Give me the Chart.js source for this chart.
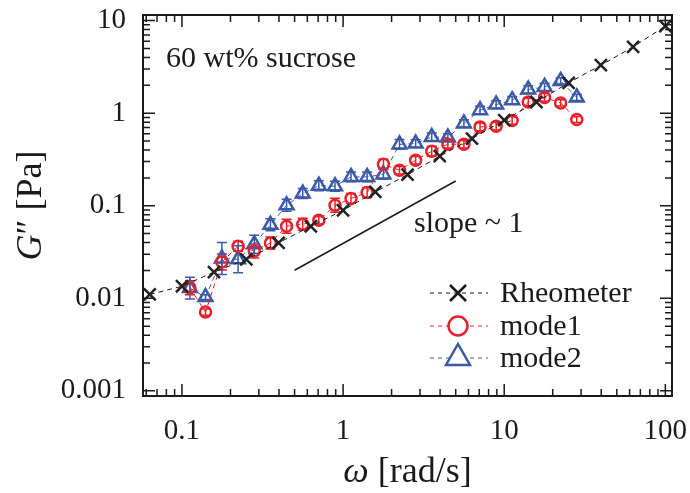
<!DOCTYPE html>
<html lang="en">
<head>
<meta charset="UTF-8">
<title>G'' vs omega - 60 wt% sucrose</title>
<script src="https://cdn.jsdelivr.net/npm/chart.js"></script>
<style>
    body { margin: 0; background: #fff; }
    #wrap { width: 690px; height: 493px; }
</style>
</head>
<body>
<div id="wrap"><canvas id="chart" width="690" height="493"></canvas></div>
<script>
// Rheometer reference data
const rheoW = [0.0631, 0.1, 0.158, 0.251, 0.398, 0.631, 1, 1.585, 2.512, 3.981, 6.31, 10, 15.85, 25.12, 39.81, 63.1, 100];
const rheoG = [0.011, 0.0135, 0.0192, 0.0263, 0.0398, 0.060, 0.0893, 0.141, 0.217, 0.343, 0.532, 0.84, 1.32, 2.13, 3.30, 5.21, 8.72];

// mode1 / mode2 share the same frequencies
const modeW = [0.112, 0.140, 0.177, 0.223, 0.281, 0.354, 0.446, 0.562, 0.707, 0.891, 1.12, 1.41, 1.78, 2.24, 2.82, 3.55, 4.47, 5.62, 7.08, 8.91, 11.2, 14.1, 17.8, 22.4, 28.2];
const mode1G = [0.0130, 0.0071, 0.0247, 0.0365, 0.0325, 0.0396, 0.060, 0.063, 0.0697, 0.101, 0.120, 0.139, 0.281, 0.242, 0.310, 0.388, 0.462, 0.462, 0.711, 0.723, 0.834, 1.32, 1.48, 1.29, 0.855];
const mode2G = [0.0129, 0.0103, 0.0269, 0.0264, 0.0384, 0.0623, 0.101, 0.1355, 0.1645, 0.1625, 0.205, 0.205, 0.218, 0.460, 0.470, 0.554, 0.546, 0.774, 1.077, 1.24, 1.38, 1.80, 1.92, 2.23, 1.48];
// relative errors (bar goes from G/(1+e) to G*(1+e))
const mode1Err = [0.19, 0.08, 0.22, 0.13, 0.19, 0.16, 0.19, 0.16, 0.10, 0.19, 0.13, 0.13, 0.13, 0.10, 0.10, 0.13, 0.10, 0.10, 0.10, 0.10, 0.10, 0.10, 0.10, 0.08, 0.08];
const mode2Err = [0.31, 0.06, 0.49, 0.40, 0.25, 0.16, 0.16, 0.13, 0.13, 0.13, 0.13, 0.13, 0.13, 0.13, 0.10, 0.10, 0.10, 0.10, 0.10, 0.10, 0.10, 0.10, 0.10, 0.08, 0.08];

// slope guide line
const slopeW = [0.5, 5];
const slopeG = [0.0201, 0.185];

const xTicks = [0.1, 1, 10, 100];
const yTicks = [0.001, 0.01, 0.1, 1, 10];

const SERIF = "'Liberation Serif', 'Times New Roman', serif";
const BLACK = '#1a1a1a';
const RED = '#e8202a';
const BLUE = '#3a5aa8';

function pts(xs, ys) {
    return xs.map((x, i) => ({ x: x, y: ys[i] }));
}

// frame, inward ticks, error bars, text and legend
const decor = {
    id: 'decor',
    beforeDatasetsDraw(chart) {
        const ctx = chart.ctx;
        const xs = chart.scales.x, ys = chart.scales.y;
        const bars = [[mode1G, mode1Err, RED], [mode2G, mode2Err, BLUE]];
        ctx.save();
        ctx.lineWidth = 1.5;
        bars.forEach(([g, err, col]) => {
            ctx.strokeStyle = col;
            modeW.forEach((w, i) => {
                const px = xs.getPixelForValue(w);
                const lo = ys.getPixelForValue(g[i] / (1 + err[i]));
                const hi = ys.getPixelForValue(g[i] * (1 + err[i]));
                ctx.beginPath();
                ctx.moveTo(px, lo); ctx.lineTo(px, hi);
                ctx.moveTo(px - 5, lo); ctx.lineTo(px + 5, lo);
                ctx.moveTo(px - 5, hi); ctx.lineTo(px + 5, hi);
                ctx.stroke();
            });
        });
        ctx.restore();
    },
    afterDraw(chart) {
        const ctx = chart.ctx;
        const a = chart.chartArea;
        const xs = chart.scales.x, ys = chart.scales.y;
        ctx.save();
        ctx.strokeStyle = BLACK;
        ctx.lineWidth = 2;
        ctx.strokeRect(a.left, a.top, a.right - a.left, a.bottom - a.top);

        // inward ticks on all four sides
        ctx.lineWidth = 1.5;
        for (let e = -3; e <= 2; e++) {
            for (let m = 1; m <= 9; m++) {
                const v = m * Math.pow(10, e);
                const len = m === 1 ? 12 : 7;
                if (v >= xs.min && v <= xs.max) {
                    const px = xs.getPixelForValue(v);
                    ctx.beginPath();
                    ctx.moveTo(px, a.bottom); ctx.lineTo(px, a.bottom - len);
                    ctx.moveTo(px, a.top); ctx.lineTo(px, a.top + len);
                    ctx.stroke();
                }
                if (v >= ys.min && v <= ys.max) {
                    const py = ys.getPixelForValue(v);
                    ctx.beginPath();
                    ctx.moveTo(a.left, py); ctx.lineTo(a.left + len, py);
                    ctx.moveTo(a.right, py); ctx.lineTo(a.right - len, py);
                    ctx.stroke();
                }
            }
        }

        // annotations
        ctx.fillStyle = BLACK;
        ctx.textBaseline = 'alphabetic';
        ctx.font = '30px ' + SERIF;
        ctx.fillText('60 wt% sucrose', 166, 67);
        ctx.fillText('slope ~ 1', 414, 232);

        // x title
        ctx.font = 'italic 36px ' + SERIF;
        const w1 = ctx.measureText('ω').width;
        ctx.font = '36px ' + SERIF;
        const w2 = ctx.measureText(' [rad/s]').width;
        let x0 = (a.left + a.right) / 2 - (w1 + w2) / 2;
        ctx.font = 'italic 36px ' + SERIF;
        ctx.fillText('ω', x0, 482);
        ctx.font = '36px ' + SERIF;
        ctx.fillText(' [rad/s]', x0 + w1, 482);

        // y title
        ctx.save();
        ctx.translate(41, (a.top + a.bottom) / 2);
        ctx.rotate(-Math.PI / 2);
        ctx.font = 'italic 36px ' + SERIF;
        const g1 = ctx.measureText('G').width;
        ctx.font = '36px ' + SERIF;
        const g2 = ctx.measureText('″ [Pa]').width;
        x0 = -(g1 + g2) / 2;
        ctx.font = 'italic 36px ' + SERIF;
        ctx.fillText('G', x0, 0);
        ctx.font = '36px ' + SERIF;
        ctx.fillText('″ [Pa]', x0 + g1, 0);
        ctx.restore();

        // legend
        const rows = [
            ['Rheometer', BLACK, 'cross', 293],
            ['mode1', RED, 'circle', 326],
            ['mode2', BLUE, 'triangle', 358]
        ];
        rows.forEach(([label, col, shape, y]) => {
            ctx.strokeStyle = col;
            ctx.lineWidth = 1;
            ctx.setLineDash([4, 4]);
            ctx.beginPath();
            ctx.moveTo(430, y); ctx.lineTo(488, y);
            ctx.stroke();
            ctx.setLineDash([]);
            ctx.lineWidth = 2.5;
            const cx = 458;
            ctx.beginPath();
            if (shape === 'cross') {
                ctx.moveTo(cx - 8, y - 8); ctx.lineTo(cx + 8, y + 8);
                ctx.moveTo(cx + 8, y - 8); ctx.lineTo(cx - 8, y + 8);
            } else if (shape === 'circle') {
                ctx.arc(cx, y, 9.5, 0, Math.PI * 2);
                ctx.fillStyle = '#fff';
                ctx.fill();
            } else {
                ctx.moveTo(cx, y - 14); ctx.lineTo(cx + 12, y + 7); ctx.lineTo(cx - 12, y + 7); ctx.closePath();
                ctx.fillStyle = '#fff';
                ctx.fill();
            }
            ctx.stroke();
            ctx.fillStyle = BLACK;
            ctx.font = '30px ' + SERIF;
            ctx.textBaseline = 'middle';
            ctx.fillText(label, 500, y + 1);
        });
        ctx.restore();
    }
};

const axisFont = { family: SERIF, size: 29 };

new Chart(document.getElementById('chart').getContext('2d'), {
    type: 'scatter',
    data: {
        datasets: [
            {
                label: 'slope',
                data: pts(slopeW, slopeG),
                showLine: true,
                borderColor: BLACK,
                borderWidth: 1.5,
                pointRadius: 0
            },
            {
                label: 'Rheometer',
                data: pts(rheoW, rheoG),
                showLine: true,
                borderColor: BLACK,
                borderWidth: 1,
                borderDash: [5, 4],
                pointStyle: 'crossRot',
                pointRadius: 8.5,
                pointBorderWidth: 2.5,
                pointBorderColor: '#222'
            },
            {
                label: 'mode1',
                data: pts(modeW, mode1G),
                showLine: true,
                borderColor: RED,
                borderWidth: 1,
                borderDash: [5, 4],
                pointStyle: 'circle',
                pointRadius: 5.5,
                pointBorderWidth: 2.5,
                pointBorderColor: RED,
                pointBackgroundColor: 'rgba(255,255,255,0)'
            },
            {
                label: 'mode2',
                data: pts(modeW, mode2G),
                showLine: true,
                borderColor: BLUE,
                borderWidth: 1,
                borderDash: [5, 4],
                pointStyle: 'triangle',
                pointRadius: 8,
                pointBorderWidth: 2.5,
                pointBorderColor: BLUE,
                pointBackgroundColor: 'rgba(255,255,255,0)'
            }
        ]
    },
    options: {
        responsive: false,
        animation: false,
        layout: { padding: { top: 15, right: 18, left: 0, bottom: 0 } },
        plugins: {
            legend: { display: false },
            tooltip: { enabled: false }
        },
        scales: {
            x: {
                type: 'logarithmic',
                min: 0.0573,
                max: 110,
                grid: { display: false, drawTicks: false },
                border: { display: false },
                afterBuildTicks: s => { s.ticks = xTicks.map(v => ({ value: v })); },
                afterFit: s => { s.height = 97; s.paddingLeft = 0; s.paddingRight = 0; },
                ticks: {
                    font: axisFont,
                    color: BLACK,
                    padding: 18,
                    maxRotation: 0,
                    autoSkip: false,
                    callback: v => String(v)
                }
            },
            y: {
                type: 'logarithmic',
                min: 0.00088,
                max: 11.5,
                grid: { display: false, drawTicks: false },
                border: { display: false },
                afterBuildTicks: s => { s.ticks = yTicks.map(v => ({ value: v })); },
                afterFit: s => { s.width = 143; s.paddingTop = 0; s.paddingBottom = 0; },
                ticks: {
                    font: axisFont,
                    color: BLACK,
                    padding: 17,
                    autoSkip: false,
                    callback: v => String(v)
                }
            }
        }
    },
    plugins: [decor]
});
</script>
</body>
</html>
